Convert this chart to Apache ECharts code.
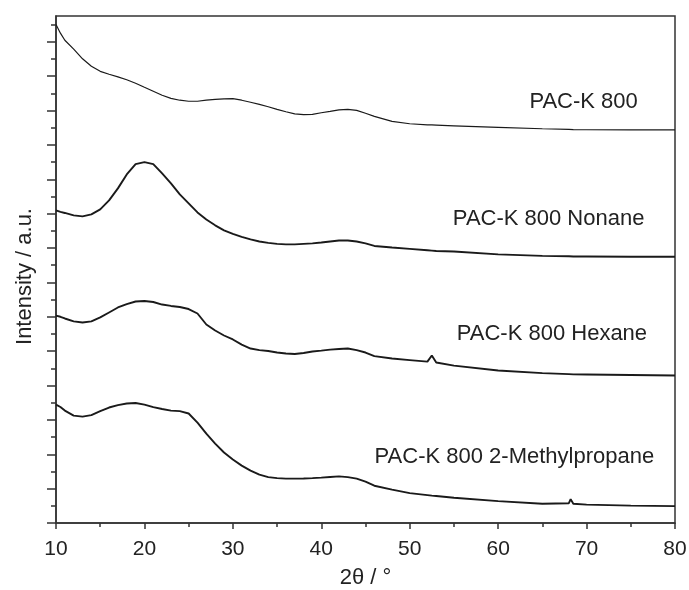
<!DOCTYPE html>
<html><head><meta charset="utf-8">
<script src="https://cdn.jsdelivr.net/npm/echarts@6/dist/echarts.min.js"></script>
<style>html,body{margin:0;padding:0;background:#fff}#c{width:689px;height:590px}</style>
</head><body><div id="c"></div>
<script>
// 2θ sample positions (degrees)
const twoTheta = [10,10.5,11,12,13,14,15,16,17,18,19,20,21,22,23,24,25,26,27,28,29,30,31,32,33,34,35,36,37,38,39,40,41,42,43,44,45,46,48,50,52,52.5,53,55,60,65,68,68.2,68.5,70,75,80];
// Intensities (a.u., curves already offset as in the figure)
const pacK800 = [29.0,28.5,28.09,27.57,27.01,26.58,26.28,26.11,25.96,25.79,25.59,25.35,25.12,24.89,24.71,24.6,24.54,24.54,24.6,24.65,24.68,24.69,24.6,24.48,24.36,24.22,24.07,23.93,23.81,23.76,23.78,23.87,23.95,24.04,24.07,24.01,23.84,23.66,23.37,23.23,23.17,23.16,23.15,23.11,23.02,22.94,22.9,22.9,22.89,22.88,22.87,22.87];
const nonane = [18.19,18.1,18.04,17.9,17.84,17.96,18.25,18.77,19.47,20.28,20.88,21.0,20.88,20.34,19.76,19.12,18.6,18.07,17.66,17.32,17.03,16.82,16.65,16.5,16.38,16.3,16.24,16.21,16.21,16.24,16.27,16.32,16.38,16.44,16.44,16.38,16.27,16.12,16.03,15.95,15.87,15.85,15.83,15.8,15.63,15.54,15.52,15.52,15.51,15.51,15.49,15.49];
const hexane = [12.07,12.0,11.9,11.73,11.67,11.73,11.96,12.25,12.54,12.74,12.89,12.92,12.86,12.71,12.63,12.57,12.45,12.19,11.55,11.2,10.91,10.68,10.38,10.15,10.06,10.01,9.92,9.86,9.83,9.89,9.98,10.03,10.09,10.12,10.15,10.06,9.92,9.71,9.57,9.48,9.39,9.75,9.34,9.16,8.87,8.72,8.66,8.66,8.65,8.64,8.61,8.58];
const methylpropane = [6.89,6.75,6.54,6.25,6.19,6.28,6.51,6.72,6.86,6.95,6.98,6.89,6.74,6.63,6.54,6.51,6.37,5.84,5.2,4.62,4.1,3.69,3.34,3.05,2.81,2.67,2.61,2.58,2.58,2.59,2.61,2.64,2.68,2.71,2.67,2.58,2.41,2.17,1.94,1.74,1.62,1.59,1.57,1.47,1.27,1.12,1.15,1.39,1.12,1.07,1.01,0.98];
const seriesNames = ['PAC-K 800','PAC-K 800 Nonane','PAC-K 800 Hexane','PAC-K 800 2-Methylpropane'];
const xTickLabels = [10,20,30,40,50,60,70,80];
const yMajorTicks = [0,2,4,6,8,10,12,14,16,18,20,22,24,26,28];
const yMinorTicks = [1,3,5,7,9,11,13,15,17,19,21,23,25,27,29];

const FONT = '"Liberation Sans", Arial, sans-serif';
const INK = '#222';
const seriesData = [pacK800, nonane, hexane, methylpropane];
const labelAnchor = [[75.85,24.49],[76.6,17.69],[76.9,11.0],[77.7,3.86]];
const widths = [1.2,1.9,1.9,1.9];

const chart = echarts.init(document.getElementById('c'), null, {renderer:'canvas'});
chart.setOption({
  animation: false,
  backgroundColor: '#fff',
  grid: {left:56, right:14, top:16, bottom:67, outerBoundsMode:'none', containLabel:false,
    show:true, borderColor:'#333', borderWidth:1.5, backgroundColor:'transparent'},
  xAxis: {
    type:'value', min:10, max:80, interval:10,
    axisLine:{lineStyle:{color:'#333', width:1.5}},
    axisTick:{show:true, inside:false, length:6, lineStyle:{color:'#333', width:1.5}},
    minorTick:{show:true, splitNumber:2, length:4, lineStyle:{color:'#333', width:1.5}},
    splitLine:{show:false},
    axisLabel:{fontSize:21, color:INK, fontFamily:FONT, margin:16,
      formatter: v => xTickLabels.includes(v) ? String(v) : ''},
    name:'2θ / °', nameLocation:'middle', nameGap:44,
    nameTextStyle:{fontSize:22, color:INK, fontFamily:FONT}
  },
  yAxis: [{
    type:'value', min:0, max:29.5, position:'left',
    axisLine:{show:true, lineStyle:{color:'#333', width:1.5}},
    axisTick:{show:true, inside:false, length:9, customValues:yMajorTicks, lineStyle:{color:'#333', width:1.5}},
    axisLabel:{show:false},
    splitLine:{show:false},
    name:'Intensity / a.u.', nameLocation:'middle', nameGap:20,
    nameTextStyle:{fontSize:22, color:INK, fontFamily:FONT, padding:[0,14,0,0]}
  },{
    type:'value', min:0, max:29.5, position:'left',
    axisLine:{show:false},
    axisTick:{show:true, inside:false, length:5, customValues:yMinorTicks, lineStyle:{color:'#333', width:1.5}},
    axisLabel:{show:false},
    splitLine:{show:false}
  }],
  series: seriesData.map((vals, k) => ({
    type:'line', name:seriesNames[k], yAxisIndex:0,
    showSymbol:false, symbol:'none', silent:true,
    lineStyle:{color:'#1a1a1a', width:widths[k]},
    data: twoTheta.map((x,i) => [x, vals[i]]),
    markPoint:{
      symbol:'circle', symbolSize:1, itemStyle:{color:'rgba(0,0,0,0)'},
      silent:true,
      data:[{coord:labelAnchor[k]}],
      label:{show:true, position:'left', distance:0, formatter:seriesNames[k],
        fontSize:22, color:INK, fontFamily:FONT}
    }
  }))
});
</script></body></html>
